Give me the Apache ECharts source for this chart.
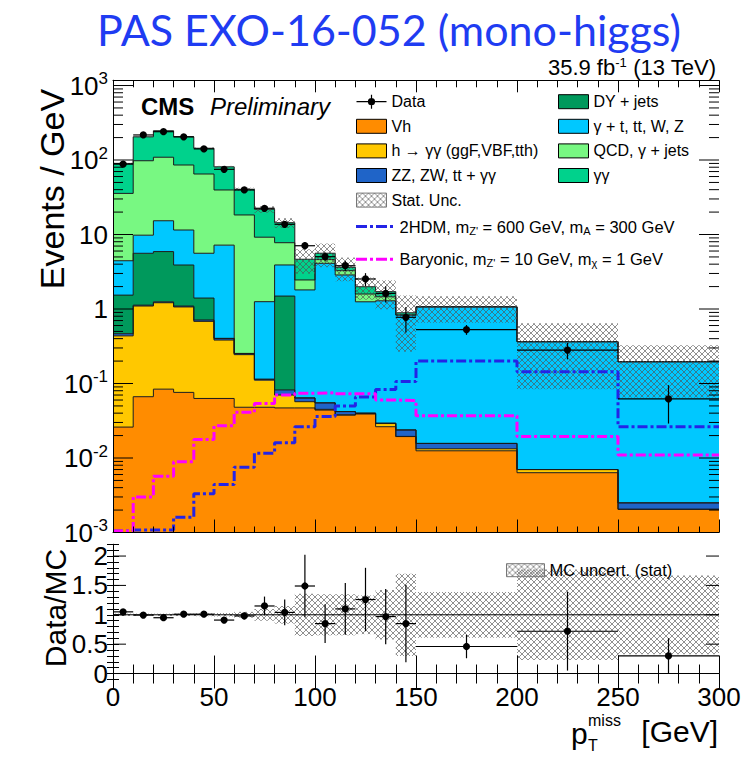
<!DOCTYPE html>
<html><head><meta charset="utf-8">
<script src="https://cdn.jsdelivr.net/npm/echarts@6/dist/echarts.min.js"></script>
<style>html,body{margin:0;padding:0;background:#fff}#c{width:753px;height:757px}</style>
</head><body><div id="c"></div>
<script>
// ---------------- data (Events / GeV) ----------------
const binEdges = [0,10,20,30,40,50,60,70,80,90,100,110,120,130,140,150,200,250,300];
const vh        = [0.026,0.0665,0.084,0.076,0.063,0.063,0.048,0.048,0.047,0.047,0.044,0.0376,0.039,0.0263,0.0194,0.0125,0.00635,0.00205];
const hgg       = [0.41,1.03,1.13,0.99,0.62,0.32,0.196,0.063,0.023,0.01,0.001,0.0004,0.0005,0.0027,0.0001,0.0008,0.00065,0];
const vvgg      = [0.03,0.03,0.035,0.03,0.03,0.02,0.009,0.003,0.012,0.007,0.01,0.004,0.0005,0.0003,0.0043,0.0024,0,0.00045];
const dyJets    = [1.07,4.47,4.65,2.8,0.69,0,0,0,1.41,0,0,0,0,0,0,0,0,0];
const gammaTop  = [2.91,4.2,9.4,7.6,4.2,6.8,0,1.14,2.41,1.74,4.05,2.82,1.21,1.26,0.806,1.054,0.357,0.1935];
const qcdGjets  = [31.2,88,93.7,74.2,59.3,32.4,18.05,7.95,3.86,0.65,0.5,0.41,0.34,0.17,0,0,0,0];
const diphoton  = [54.3,107,138,119,79,41.4,22.2,12.6,6.64,2.2,1.0,0.36,0.4,0.25,0.06,0,0,0];
const mcUnc     = [0.02,0.02,0.02,0.02,0.025,0.03,0.05,0.1,0.15,0.36,0.35,0.35,0.33,0.42,0.7,0.39,0.77,0.67];
const dataVals  = [88,217,240,205,141,75,39.6,22.5,13.7,7.07,5.04,3.81,2.53,1.62,0.774,0.53,0.281,0.062];
const dataErr   = [3,4.6,4.9,4.5,3.8,2.7,2.0,1.5,1.2,0.85,0.7,0.6,0.5,0.4,0.29,0.08,0.07,0.033];
const sig2HDM   = [0.00105,0.00108,0.00108,0.0016,0.0033,0.0044,0.0075,0.0116,0.016,0.0263,0.036,0.05,0.066,0.083,0.106,0.2,0.144,0.0263];
const sigBaryon = [0.00105,0.003,0.0057,0.0089,0.0177,0.027,0.041,0.054,0.07,0.074,0.075,0.073,0.073,0.06,0.059,0.037,0.0194,0.011];
const ratioVals = [1.05,0.995,0.95,1.01,1.01,0.91,0.98,1.15,1.04,1.49,0.85,1.10,1.26,0.97,0.85,0.46,0.72,0.30];
const ratioErr  = [0.03,0.02,0.02,0.02,0.03,0.04,0.06,0.16,0.22,0.53,0.33,0.44,0.54,0.47,0.66,0.2,0.67,0.3];
const yLogMajorTicks = [1e-3,1e-2,1e-1,1,10,100,1000];
const ratioMajorTicks = [0,0.5,1,1.5,2];
const xTickLabels = [0,50,100,150,200,250,300];

// ---------------- helpers ----------------
const Y_MIN = 0.001, Y_MAX = 1175;
const nb = binEdges.length - 1;
const layers = [
  {name:'Vh', vals:vh, color:'#FF8C00'},
  {name:'h → γγ (ggF,VBF,tth)', vals:hgg, color:'#FFC800'},
  {name:'ZZ, ZW, tt + γγ', vals:vvgg, color:'#1F64C8'},
  {name:'DY + jets', vals:dyJets, color:'#00995C'},
  {name:'γ + t, tt, W, Z', vals:gammaTop, color:'#00C8FF'},
  {name:'QCD, γ + jets', vals:qcdGjets, color:'#78F882'},
  {name:'γγ', vals:diphoton, color:'#00D28C'}
];
const cum = [];
layers.forEach((L,k)=>{ cum.push(L.vals.map((v,i)=> v + (k? cum[k-1][i] : 0))); });
const total = cum[cum.length-1];

function hatchCanvas(){
  const c = document.createElement('canvas'); c.width = 6; c.height = 6;
  const g = c.getContext('2d');
  g.strokeStyle = 'rgba(80,80,80,0.8)'; g.lineWidth = 0.8;
  g.beginPath(); g.moveTo(0,0); g.lineTo(6,6); g.moveTo(6,0); g.lineTo(0,6); g.stroke();
  return c;
}
const hatch = {image: hatchCanvas(), repeat:'repeat'};
const FONT = 'Liberation Sans';

function layerSeries(k){
  const L = layers[k];
  return {
    type:'custom', name:L.name, xAxisIndex:0, yAxisIndex:0, z:2, silent:true,
    itemStyle:{color:L.color, borderColor:'#000', borderWidth:1},
    data:[[0, 1]],
    renderItem(params, api){
      const top = [], bot = [];
      for (let i=0;i<nb;i++){ const t = cum[k][i]; top.push(api.coord([binEdges[i], t]), api.coord([binEdges[i+1], t])); }
      for (let i=nb-1;i>=0;i--){ const b = k===0 ? Y_MIN : cum[k-1][i]; bot.push(api.coord([binEdges[i+1], b]), api.coord([binEdges[i], b])); }
      return {type:'group', children:[
        {type:'polygon', shape:{points: top.concat(bot)}, style:{fill:L.color, stroke:null}},
        {type:'polyline', z2:5, shape:{points: top}, style:{stroke:'#1a1a1a', lineWidth:1, fill:null}}
      ]};
    }
  };
}

function bandSeries(name, xi, yi, lo, hi){
  return {
    type:'custom', name, xAxisIndex:xi, yAxisIndex:yi, z:3, silent:true,
    itemStyle:{color:hatch, borderColor:'#666', borderWidth:1},
    data: binEdges.slice(0,nb).map((x,i)=>[x, binEdges[i+1], lo[i], hi[i]]),
    renderItem(params, api){
      const p0 = api.coord([api.value(0), api.value(3)]);
      const p1 = api.coord([api.value(1), api.value(2)]);
      return {type:'rect', z2:6, shape:{x:p0[0], y:p0[1], width:p1[0]-p0[0], height:p1[1]-p0[1]}, style:{fill:hatch, stroke:null}};
    }
  };
}

function pointSeries(name, xi, yi, vals, errs){
  return {
    type:'custom', name, xAxisIndex:xi, yAxisIndex:yi, z:6, silent:true,
    itemStyle:{color:'#000'},
    data: vals.map((v,i)=>[(binEdges[i]+binEdges[i+1])/2, v, errs[i], binEdges[i], binEdges[i+1]]),
    renderItem(params, api){
      const xc = api.value(0), v = api.value(1), e = api.value(2);
      const c = api.coord([xc, v]);
      const a = api.coord([xc, v + e]), b = api.coord([xc, v - e]);
      const l = api.coord([api.value(3), v]), r = api.coord([api.value(4), v]);
      return {type:'group', children:[
        {type:'line', z2:10, shape:{x1:a[0], y1:a[1], x2:b[0], y2:b[1]}, style:{stroke:'#000', lineWidth:1.2}},
        {type:'line', z2:10, shape:{x1:l[0], y1:l[1], x2:r[0], y2:r[1]}, style:{stroke:'#000', lineWidth:1.2}},
        {type:'circle', z2:11, shape:{cx:c[0], cy:c[1], r:3.6}, style:{fill:'#000'}}
      ]};
    }
  };
}

function stepData(vals){
  const d = vals.map((v,i)=>[binEdges[i], v]);
  d.push([binEdges[nb], vals[nb-1]]);
  return d;
}

function yTickSeries(xi, yi, ticks, xl, xr){
  return {
    type:'custom', xAxisIndex:xi, yAxisIndex:yi, z:9, silent:true,
    data: ticks.map(t=>[xl, t[0], t[1]]),
    renderItem(params, api){
      const v = api.value(1), L = api.value(2);
      const pl = api.coord([xl, v]), pr = api.coord([xr, v]);
      return {type:'group', children:[
        {type:'line', shape:{x1:pl[0], y1:pl[1], x2:pl[0]+L, y2:pl[1]}, style:{stroke:'#000', lineWidth:1}},
        {type:'line', shape:{x1:pr[0], y1:pr[1], x2:pr[0]-L, y2:pr[1]}, style:{stroke:'#000', lineWidth:1}}
      ]};
    }
  };
}

const mainTicks = [];
yLogMajorTicks.forEach((p,idx)=>{
  mainTicks.push([p, 20]);
  if (idx < yLogMajorTicks.length-1) for (let k=2;k<=9;k++) mainTicks.push([p*k, 10]);
});
const ratioTicks = ratioMajorTicks.map(v=>[v, 13]);

function logLabel(v){
  const l = Math.log10(v), n = Math.round(l);
  if (Math.abs(l-n) > 0.01) return '';
  if (n === 0) return '1';
  if (n === 1) return '10';
  return '10{s|' + n + '}';
}

const xMainCommon = {type:'value', min:0, max:300, interval:50, z:8,
  axisLine:{show:true, lineStyle:{color:'#000', width:1}}, splitLine:{show:false},
  axisLabel:{show:false}};

const legendBase = {orient:'vertical', selectedMode:false, padding:0, itemWidth:30, itemHeight:14, itemGap:8.6,
  textStyle:{fontFamily:FONT, fontSize:16, color:'#000', lineHeight:14,
    rich:{sub:{fontFamily:FONT, fontSize:11, color:'#000', padding:[8,0,0,0]}}}};
const boxStyle = c => ({color:c, borderColor:'#000', borderWidth:1});

const option = {
  backgroundColor:'#fff',
  animation:false,
  grid:[
    {left:113, width:606, top:80.3, height:452.2},
    {left:113, width:606, top:544.3, height:135.1}
  ],
  xAxis:[
    Object.assign({}, xMainCommon, {gridIndex:0, position:'bottom',
      axisTick:{show:true, inside:true, length:13, lineStyle:{color:'#000'}},
      minorTick:{show:true, splitNumber:5, length:6, lineStyle:{color:'#000'}}}),
    Object.assign({}, xMainCommon, {gridIndex:0, position:'top',
      axisTick:{show:true, inside:true, length:12, lineStyle:{color:'#000'}},
      minorTick:{show:true, splitNumber:5, length:7, lineStyle:{color:'#000'}}}),
    Object.assign({}, xMainCommon, {gridIndex:1, position:'bottom',
      axisTick:{show:true, inside:true, length:18, lineStyle:{color:'#000'}},
      minorTick:{show:true, splitNumber:5, length:9, lineStyle:{color:'#000'}},
      axisLabel:{show:true, fontFamily:FONT, fontSize:26, lineHeight:24, color:'#000', margin:6,
        formatter: v => xTickLabels.indexOf(v) >= 0 ? String(v) : ''}}),
    Object.assign({}, xMainCommon, {gridIndex:1, position:'top',
      axisTick:{show:true, inside:true, length:15, lineStyle:{color:'#000'}},
      minorTick:{show:true, splitNumber:5, length:10, lineStyle:{color:'#000'}}})
  ],
  yAxis:[
    {gridIndex:0, type:'log', logBase:10, min:Y_MIN, max:Y_MAX, position:'left', z:8,
      axisLine:{show:true, lineStyle:{color:'#000', width:1}}, axisTick:{show:false}, splitLine:{show:false},
      minorTick:{show:false}, minorSplitLine:{show:false},
      axisLabel:{show:true, fontFamily:FONT, fontSize:26, color:'#000', margin:5, formatter:logLabel,
        showMinLabel:true, showMaxLabel:true,
        rich:{s:{fontFamily:FONT, fontSize:17, color:'#000', padding:[0,0,14,0]}}}},
    {gridIndex:0, type:'log', logBase:10, min:Y_MIN, max:Y_MAX, position:'right', z:8,
      axisLine:{show:true, lineStyle:{color:'#000', width:1}}, axisTick:{show:false}, splitLine:{show:false},
      axisLabel:{show:false}},
    {gridIndex:1, type:'value', min:-0.1, max:2.2, interval:0.1, position:'left', z:8,
      axisLine:{show:true, lineStyle:{color:'#000', width:1}},
      axisTick:{show:true, inside:true, length:6, lineStyle:{color:'#000'}}, splitLine:{show:false},
      axisLabel:{show:true, fontFamily:FONT, fontSize:26, color:'#000', margin:5, showMinLabel:true, showMaxLabel:true,
        formatter: v => { const r = Math.round(v*10)/10; return ratioMajorTicks.some(t=>Math.abs(t-r)<1e-6) ? String(r) : ''; }}},
    {gridIndex:1, type:'value', min:-0.1, max:2.2, interval:0.1, position:'right', z:8,
      axisLine:{show:true, lineStyle:{color:'#000', width:1}},
      axisTick:{show:true, inside:true, length:6, lineStyle:{color:'#000'}}, splitLine:{show:false},
      axisLabel:{show:false}}
  ],
  legend:[
    Object.assign({}, legendBase, {left:356, top:93.7, data:[
      {name:'Data', icon:'path://M0,6.4H30V7.6H0Z M14.4,0H15.6V14H14.4Z M18.6,7A3.6,3.6 0 1 1 11.4,7A3.6,3.6 0 1 1 18.6,7Z', itemStyle:{color:'#000', borderWidth:0}},
      {name:'Vh', icon:'rect', itemStyle:boxStyle(layers[0].color)},
      {name:layers[1].name, icon:'rect', itemStyle:boxStyle(layers[1].color)},
      {name:layers[2].name, icon:'rect', itemStyle:boxStyle(layers[2].color)},
      {name:'Stat. Unc.', icon:'rect', itemStyle:{color:hatch, borderColor:'#777', borderWidth:1}}
    ]}),
    Object.assign({}, legendBase, {left:558, top:93.7, data:[
      {name:layers[3].name, icon:'rect', itemStyle:boxStyle(layers[3].color)},
      {name:layers[4].name, icon:'rect', itemStyle:boxStyle(layers[4].color)},
      {name:layers[5].name, icon:'rect', itemStyle:boxStyle(layers[5].color)},
      {name:layers[6].name, icon:'rect', itemStyle:boxStyle(layers[6].color)}
    ]}),
    Object.assign({}, legendBase, {left:356, top:218, itemWidth:40, itemHeight:3,
      textStyle:Object.assign({}, legendBase.textStyle, {fontSize:16.5}),
      formatter: () => "2HDM, m{sub|Z'} = 600 GeV, m{sub|A} = 300 GeV",
      data:[{name:'2HDM', icon:'path://M0,0H11V3H0Z M14,0H17V3H14Z M20,0H31V3H20Z M34,0H37V3H34Z', itemStyle:{color:'#2424E6'}}]}),
    Object.assign({}, legendBase, {left:356, top:250.7, itemWidth:40, itemHeight:3,
      textStyle:Object.assign({}, legendBase.textStyle, {fontSize:16.5}),
      formatter: () => "Baryonic, m{sub|Z'} = 10 GeV, m{sub|χ} = 1 GeV",
      data:[{name:'Baryonic', icon:'path://M0,0H11V3H0Z M14,0H17V3H14Z M20,0H31V3H20Z M34,0H37V3H34Z', itemStyle:{color:'#FF00FF'}}]}),
    Object.assign({}, legendBase, {left:506, top:561.7, itemWidth:38, itemHeight:13, textStyle:Object.assign({}, legendBase.textStyle, {fontSize:16.5}),
      data:[{name:'MC uncert. (stat)', icon:'rect', itemStyle:{color:hatch, borderColor:'#777', borderWidth:1}}]})
  ],
  graphic:[
    {type:'text', x:389, y:29, style:{text:'PAS EXO-16-052 (mono-higgs)', fontFamily:'Lato', fontSize:43, lineHeight:40, fill:'#1F3CF2', align:'center', verticalAlign:'middle'}},
    {type:'text', x:716, y:67, style:{text:'35.9 fb{s|-1} (13 TeV)', fontFamily:FONT, fontSize:22, lineHeight:20, fill:'#000', align:'right', verticalAlign:'middle',
      rich:{s:{fontFamily:FONT, fontSize:13, lineHeight:13, fill:'#000', padding:[0,0,9,0]}}}},
    {type:'text', x:141, y:106.5, style:{text:'CMS', fontFamily:FONT, fontWeight:'bold', fontSize:24, fill:'#000', align:'left', verticalAlign:'middle'}},
    {type:'text', x:210, y:106.5, style:{text:'Preliminary', fontFamily:FONT, fontStyle:'italic', fontSize:24, fill:'#000', align:'left', verticalAlign:'middle'}},
    {type:'text', x:52, y:189, rotation:Math.PI/2, style:{text:'Events / GeV', fontFamily:FONT, fontSize:34, fill:'#000', align:'center', verticalAlign:'middle'}},
    {type:'text', x:55, y:608, rotation:Math.PI/2, style:{text:'Data/MC', fontFamily:FONT, fontSize:30, fill:'#000', align:'center', verticalAlign:'middle'}},
    {type:'text', x:571, y:733, style:{text:'p', fontFamily:FONT, fontSize:30, fill:'#000', align:'left', verticalAlign:'middle'}},
    {type:'text', x:588, y:720, style:{text:'miss', fontFamily:FONT, fontSize:16, lineHeight:14, fill:'#000', align:'left', verticalAlign:'middle'}},
    {type:'text', x:588, y:745, style:{text:'T', fontFamily:FONT, fontSize:16, lineHeight:14, fill:'#000', align:'left', verticalAlign:'middle'}},
    {type:'text', x:718, y:731, style:{text:'[GeV]', fontFamily:FONT, fontSize:30, fill:'#000', align:'right', verticalAlign:'middle'}}
  ],
  series:[
    ...layers.map((L,k)=>layerSeries(k)),
    bandSeries('Stat. Unc.', 0, 0, total.map((t,i)=>t*(1-mcUnc[i])), total.map((t,i)=>t*(1+mcUnc[i]))),
    {type:'line', name:'2HDM', xAxisIndex:0, yAxisIndex:0, z:4, step:'end', symbol:'none', silent:true,
      itemStyle:{color:'#2424E6'}, lineStyle:{color:'#2424E6', width:3, type:[10,3,3,3]}, data:stepData(sig2HDM)},
    {type:'line', name:'Baryonic', xAxisIndex:0, yAxisIndex:0, z:4, step:'end', symbol:'none', silent:true,
      itemStyle:{color:'#FF00FF'}, lineStyle:{color:'#FF00FF', width:3, type:[10,3,3,3]}, data:stepData(sigBaryon)},
    pointSeries('Data', 0, 0, dataVals, dataErr),
    yTickSeries(0, 0, mainTicks, 0, 300),
    bandSeries('MC uncert. (stat)', 2, 2, mcUnc.map(e=>1-e), mcUnc.map(e=>1+e)),
    {type:'line', name:'unity', xAxisIndex:2, yAxisIndex:2, z:4, symbol:'none', silent:true,
      lineStyle:{color:'#000', width:1}, data:[[0,1],[300,1]]},
    pointSeries('Data/MC', 2, 2, ratioVals, ratioErr),
    yTickSeries(2, 2, ratioTicks, 0, 300)
  ]
};
const chart = echarts.init(document.getElementById('c'), null, {renderer:'svg', width:753, height:757});
chart.setOption(option);
</script>
</body></html>
